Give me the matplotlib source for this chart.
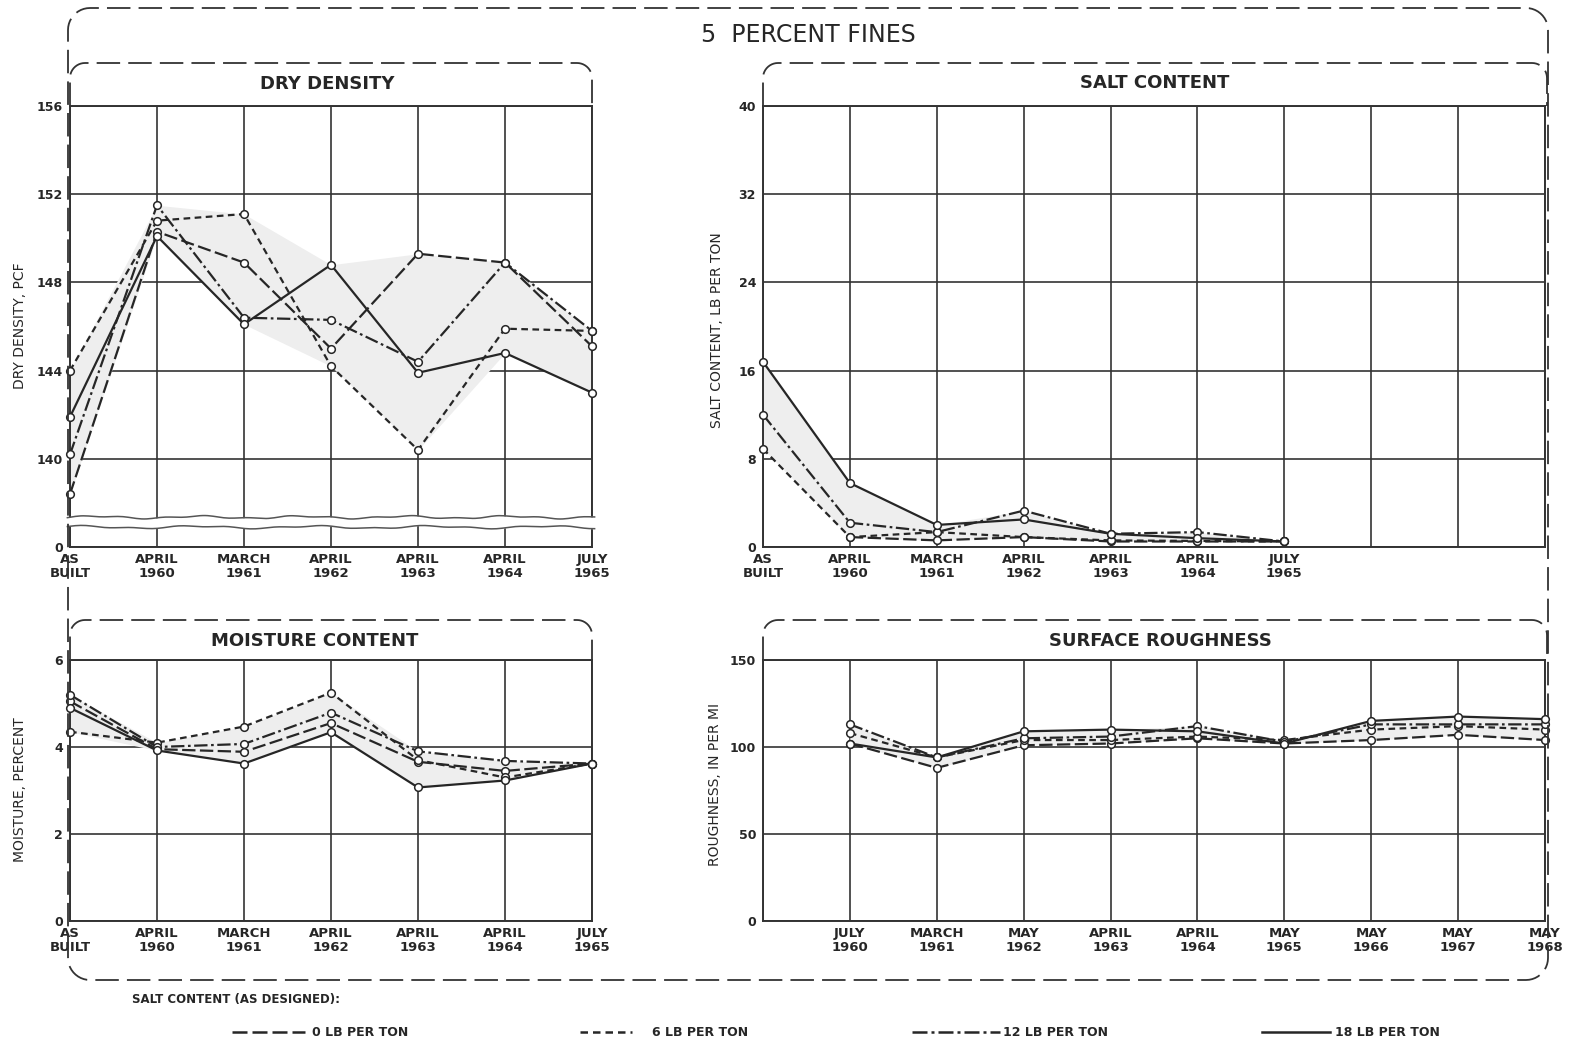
import numpy as np
import matplotlib
matplotlib.use("Agg")
import matplotlib.pyplot as plt

W, H = 1570, 1046
plt.rcParams['font.family'] = ['DejaVu Sans']

# ---- data ----
dates_main = ["AS\nBUILT", "APRIL\n1960", "MARCH\n1961", "APRIL\n1962",
              "APRIL\n1963", "APRIL\n1964", "JULY\n1965"]
dates_rough = ["JULY\n1960", "MARCH\n1961", "MAY\n1962", "APRIL\n1963",
               "APRIL\n1964", "MAY\n1965", "MAY\n1966", "MAY\n1967", "MAY\n1968"]

# dry density, pcf
dd_0 = [138.4, 150.3, 148.9, 145.0, 149.3, 148.9, 145.1]
dd_6 = [144.0, 150.8, 151.1, 144.2, 140.4, 145.9, 145.8]
dd_12 = [140.2, 151.5, 146.4, 146.3, 144.4, 148.9, 145.8]
dd_18 = [141.9, 150.1, 146.1, 148.8, 143.9, 144.8, 143.0]

# salt content, lb per ton
sc_0 = [np.nan, 0.9, 0.6, 0.9, 0.5, 0.5, 0.5]
sc_6 = [8.9, 0.9, 1.35, 0.9, 0.6, 0.55, 0.5]
sc_12 = [12.0, 2.2, 1.35, 3.3, 1.2, 1.35, 0.5]
sc_18 = [16.8, 5.8, 2.0, 2.5, 1.2, 0.8, 0.5]

# moisture, percent
mc_0 = [5.05, 3.95, 3.89, 4.55, 3.66, 3.45, 3.62]
mc_6 = [4.35, 4.1, 4.47, 5.25, 3.7, 3.3, 3.62]
mc_12 = [5.2, 4.0, 4.07, 4.79, 3.9, 3.68, 3.62]
mc_18 = [4.9, 3.92, 3.62, 4.34, 3.07, 3.23, 3.62]

# roughness, in per mi
rg_0 = [102, 88, 101, 102, 105, 102, 104, 107, 104]
rg_6 = [108, 94, 104, 104, 106, 104, 110, 112, 110]
rg_12 = [113, 94, 105, 106, 112, 103, 113, 113, 113]
rg_18 = [102, 94, 109, 110, 109, 102, 115, 117.5, 116]

series_names = ["0 LB PER TON", "6 LB PER TON", "12 LB PER TON", "18 LB PER TON"]
styles = [(0, (6, 2)), (0, (3, 2)), (0, (6, 1.6, 1.2, 1.6)), 'solid']

INK = '#262626'
GRID = '#333333'
SHADE = '#eeeeee'


def rect(x0, y0, x1, y1):
    return [x0 / W, 1 - y1 / H, (x1 - x0) / W, (y1 - y0) / H]


fig = plt.figure(figsize=(W / 100, H / 100), dpi=100)
fig.patch.set_facecolor('white')


def setup(ax, xs, labels, ylim, yticks, ylabels, xlim):
    ax.set_xlim(*xlim)
    ax.set_ylim(*ylim)
    ax.set_xticks(xs)
    ax.set_xticklabels(labels, fontsize=9.5, fontweight='bold', color=INK, linespacing=1.15)
    ax.set_yticks(yticks)
    ax.set_yticklabels(ylabels, fontsize=9, fontweight='bold', color=INK)
    ax.tick_params(length=0, pad=4)
    ax.tick_params(axis='y', pad=5)
    ax.grid(True, color=GRID, lw=1.2, zorder=2)
    ax.set_axisbelow(True)
    for s in ax.spines.values():
        s.set_color(GRID)
        s.set_linewidth(1.4)


def draw_series(ax, x, data):
    arr = np.array(data, dtype=float)
    lo = np.nanmin(arr, axis=0)
    hi = np.nanmax(arr, axis=0)
    ax.fill_between(x, lo, hi, color=SHADE, zorder=1, lw=0)
    for vals, ls in zip(data, styles):
        ax.plot(x, vals, ls=ls, color=INK, lw=1.6, marker='o', ms=5.5,
                mfc='white', mec=INK, mew=1.1, zorder=4, clip_on=False)


x7 = np.arange(7)

# dry density
ax1 = fig.add_axes(rect(70, 106, 592, 547))
setup(ax1, x7, dates_main, (136, 156), [136, 140, 144, 148, 152, 156],
      ['0', '140', '144', '148', '152', '156'], (0, 6))
draw_series(ax1, x7, [dd_0, dd_6, dd_12, dd_18])
# axis break
bx = np.linspace(-0.03, 6.03, 200)
w1 = 137.35 + 0.05 * np.sin(bx * 5.3) + 0.03 * np.sin(bx * 13.1)
w2 = 136.9 + 0.05 * np.sin(bx * 4.7 + 1.0) + 0.03 * np.sin(bx * 11.3)
ax1.fill_between(bx, w2, w1, color='white', zorder=3, clip_on=False, lw=0)
ax1.plot(bx, w1, color='#555555', lw=1.1, zorder=3.1, clip_on=False)
ax1.plot(bx, w2, color='#555555', lw=1.1, zorder=3.1, clip_on=False)

# salt content
ax2 = fig.add_axes(rect(763, 106, 1545, 547))
setup(ax2, np.arange(10), dates_main + ['', '', ''], (0, 40), [0, 8, 16, 24, 32, 40],
      ['0', '8', '16', '24', '32', '40'], (0, 9))
draw_series(ax2, x7, [sc_0, sc_6, sc_12, sc_18])

# moisture content
ax3 = fig.add_axes(rect(70, 660, 592, 921))
setup(ax3, x7, dates_main, (0, 6), [0, 2, 4, 6], ['0', '2', '4', '6'], (0, 6))
draw_series(ax3, x7, [mc_0, mc_6, mc_12, mc_18])

# surface roughness
ax4 = fig.add_axes(rect(763, 660, 1545, 921))
x9 = np.arange(1, 10)
setup(ax4, np.arange(10), [''] + dates_rough, (0, 150), [0, 50, 100, 150],
      ['0', '50', '100', '150'], (0, 9))
draw_series(ax4, x9, [rg_0, rg_6, rg_12, rg_18])

# axis titles
lab = dict(rotation=90, ha='center', va='center', fontsize=10, color=INK)
fig.text(20 / W, 1 - 326 / H, "DRY DENSITY, PCF", **lab)
fig.text(717 / W, 1 - 330 / H, "SALT CONTENT, LB PER TON", **lab)
fig.text(20 / W, 1 - 790 / H, "MOISTURE, PERCENT", **lab)
fig.text(715 / W, 1 - 785 / H, "ROUGHNESS, IN PER MI", **lab)

# ---- overlay: dashed frames, titles, legend ----
ov = fig.add_axes([0, 0, 1, 1], zorder=10)
ov.set_xlim(0, W)
ov.set_ylim(H, 0)
ov.set_facecolor('none')
ov.axis('off')


def arc(cx, cy, r, a0, a1):
    t = np.radians(np.linspace(a0, a1, 12))
    return list(cx + r * np.cos(t)), list(cy - r * np.sin(t))


def frame(x0, y0, x1, y1, r, closed):
    xs, ys = [x0], [y1 if not closed else y1 - r]
    ax_, ay_ = arc(x0 + r, y0 + r, r, 180, 90)
    xs += ax_; ys += ay_
    ax_, ay_ = arc(x1 - r, y0 + r, r, 90, 0)
    xs += ax_; ys += ay_
    if closed:
        ax_, ay_ = arc(x1 - r, y1 - r, r, 0, -90)
        xs += ax_; ys += ay_
        ax_, ay_ = arc(x0 + r, y1 - r, r, -90, -180)
        xs += ax_; ys += ay_
        xs.append(x0); ys.append(y1 - r)
    else:
        xs.append(x1); ys.append(y1)
    ov.plot(xs, ys, color='#333333', lw=1.3, ls=(0, (13, 4.5)), solid_capstyle='butt')


frame(68, 8, 1548, 980, 22, True)
frame(70, 63, 592, 106, 15, False)
frame(763, 63, 1547, 106, 15, False)
frame(70, 620, 592, 660, 15, False)
frame(763, 620, 1547, 660, 15, False)

ov.text(808, 35, "5  PERCENT FINES", ha='center', va='center', fontsize=17, color=INK)
tt = dict(ha='center', va='center', fontsize=13, fontweight='bold', color=INK)
ov.text(327, 84, "DRY DENSITY", **tt)
ov.text(1155, 83, "SALT CONTENT", **tt)
ov.text(315, 641, "MOISTURE CONTENT", **tt)
ov.text(1160, 641, "SURFACE ROUGHNESS", **tt)

ov.text(132, 1000, "SALT CONTENT (AS DESIGNED):", ha='left', va='center',
        fontsize=8.5, fontweight='bold', color=INK)
key_x = [(232, 305), (580, 632), (912, 1000), (1262, 1330)]
txt_x = [312, 652, 1003, 1335]
for (k0, k1), tx, ls, name in zip(key_x, txt_x, styles, series_names):
    ov.plot([k0, k1], [1032, 1032], color=INK, lw=1.8, ls=ls)
    ov.text(tx, 1032, name, ha='left', va='center', fontsize=9,
            fontweight='bold', color=INK)

fig.savefig("out.png", dpi=100, facecolor='white')
